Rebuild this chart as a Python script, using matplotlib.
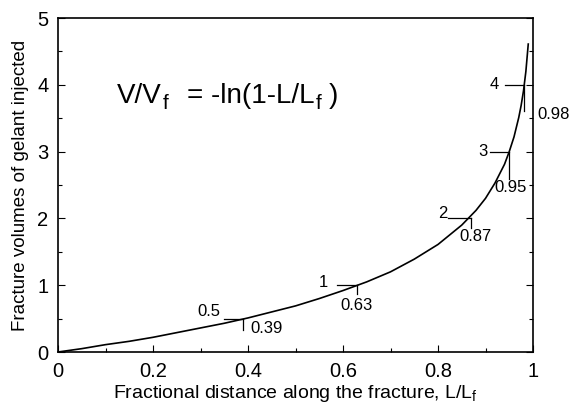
import matplotlib
matplotlib.use("Agg")
import matplotlib.pyplot as plt
from matplotlib.ticker import MultipleLocator
from matplotlib.transforms import offset_copy

plt.rcParams['font.family'] = ['Liberation Sans', 'DejaVu Sans']
plt.rcParams['mathtext.fontset'] = 'custom'
plt.rcParams['mathtext.rm'] = 'Liberation Sans'

# Curve: fractional distance L/Lf vs fracture volumes V/Vf
frac_dist = [0.0, 0.05, 0.10, 0.15, 0.20, 0.25, 0.30, 0.35, 0.40, 0.45, 0.50,
             0.55, 0.60, 0.65, 0.70, 0.75, 0.80, 0.85, 0.88, 0.90, 0.92, 0.94,
             0.95, 0.96, 0.97, 0.975, 0.98, 0.985, 0.99]
frac_vol = [0.0, 0.05, 0.11, 0.16, 0.22, 0.29, 0.36, 0.43, 0.51, 0.60, 0.69,
            0.80, 0.92, 1.05, 1.20, 1.39, 1.61, 1.90, 2.12, 2.30, 2.53, 2.81,
            3.00, 3.22, 3.51, 3.69, 3.91, 4.20, 4.61]

# Marked points on the curve
mark_x = [0.39, 0.63, 0.87, 0.95, 0.98]
mark_y = [0.5, 1, 2, 3, 4]
mark_vol_labels = ["0.5", "1", "2", "3", "4"]
mark_dist_labels = ["0.39", "0.63", "0.87", "0.95", "0.98"]

xticks = [0, 0.2, 0.4, 0.6, 0.8, 1]
xtick_labels = ["0", "0.2", "0.4", "0.6", "0.8", "1"]
yticks = [0, 1, 2, 3, 4, 5]
ytick_labels = ["0", "1", "2", "3", "4", "5"]

fig = plt.figure(figsize=(5.70, 4.05), dpi=100)
ax = fig.add_axes([58/570, 1-352/405, (533-58)/570, (352-18)/405])

ax.plot(frac_dist, frac_vol, color='black', lw=1.2)

ax.set_xlim(0, 1)
ax.set_ylim(0, 5)
ax.set_xticks(xticks)
ax.set_xticklabels(xtick_labels)
ax.set_yticks(yticks)
ax.set_yticklabels(ytick_labels)
ax.xaxis.set_minor_locator(MultipleLocator(0.1))
ax.yaxis.set_minor_locator(MultipleLocator(0.5))
ax.tick_params(which='both', direction='in', top=False, right=True,
               labelsize=14.5, width=0.8, pad=7)
ax.tick_params(which='major', length=5)
ax.tick_params(which='minor', length=3)
for s in ax.spines.values():
    s.set_linewidth(1.2)

ax.set_xlabel("Fractional distance along the fracture, L/L$_\\mathregular{f}$",
              fontsize=14, labelpad=2)
ax.set_ylabel("Fracture volumes of gelant injected", fontsize=13.5, labelpad=6)

# pixel scale (dpi=100 -> 1 dot = 1 px)
px_x = 1/475.0
px_y = 5/334.0

# layout per marker (pixels): horiz length, vert length,
# vol-label (right edge dx, dy), dist-label (left edge dx, dy)
layout = [
    (19, 11, (-23, 7), (7, -10)),
    (20, 9, (-29, 3), (-17, -20)),
    (23, 10, (-24, 5), (-12, -18)),
    (19, 27, (-22, 0), (-15, -36)),
    (19, 26, (-25, 0), (14, -30)),
]

for xv, yv, vl, dl, (hl, vlen, (vdx, vdy), (ddx, ddy)) in zip(
        mark_x, mark_y, mark_vol_labels, mark_dist_labels, layout):
    ax.plot([xv - hl*px_x, xv], [yv, yv], color='black', lw=0.9, clip_on=False)
    ax.plot([xv, xv], [yv, yv - vlen*px_y], color='black', lw=0.9, clip_on=False)
    ax.annotate(vl, (xv, yv), xytext=(vdx*0.72, vdy*0.72), textcoords='offset points',
                ha='right', va='center', fontsize=12, annotation_clip=False)
    ax.annotate(dl, (xv, yv), xytext=(ddx*0.72, ddy*0.72), textcoords='offset points',
                ha='left', va='center', fontsize=12, annotation_clip=False)

# Formula built from pieces so the subscripts can be sized like the original
renderer = fig.canvas.get_renderer()
pieces = [("V/V", 20, 0, 0), ("f", 15, -6, 0), ("= -ln(1-L/L", 20, 0, 18),
          ("f", 15, -6, 0), (")", 20, 0, 6)]
x_cursor = 0.0  # pixels from start
for txt, fs, dy, gap in pieces:
    x_cursor += gap
    tr = offset_copy(ax.transData, fig=fig, x=x_cursor, y=dy, units='dots')
    t = ax.text(0.124, 3.73, txt, fontsize=fs, ha='left', va='baseline',
                transform=tr)
    bb = t.get_window_extent(renderer)
    x_cursor += bb.width + 1

fig.savefig("out.png", dpi=100)
